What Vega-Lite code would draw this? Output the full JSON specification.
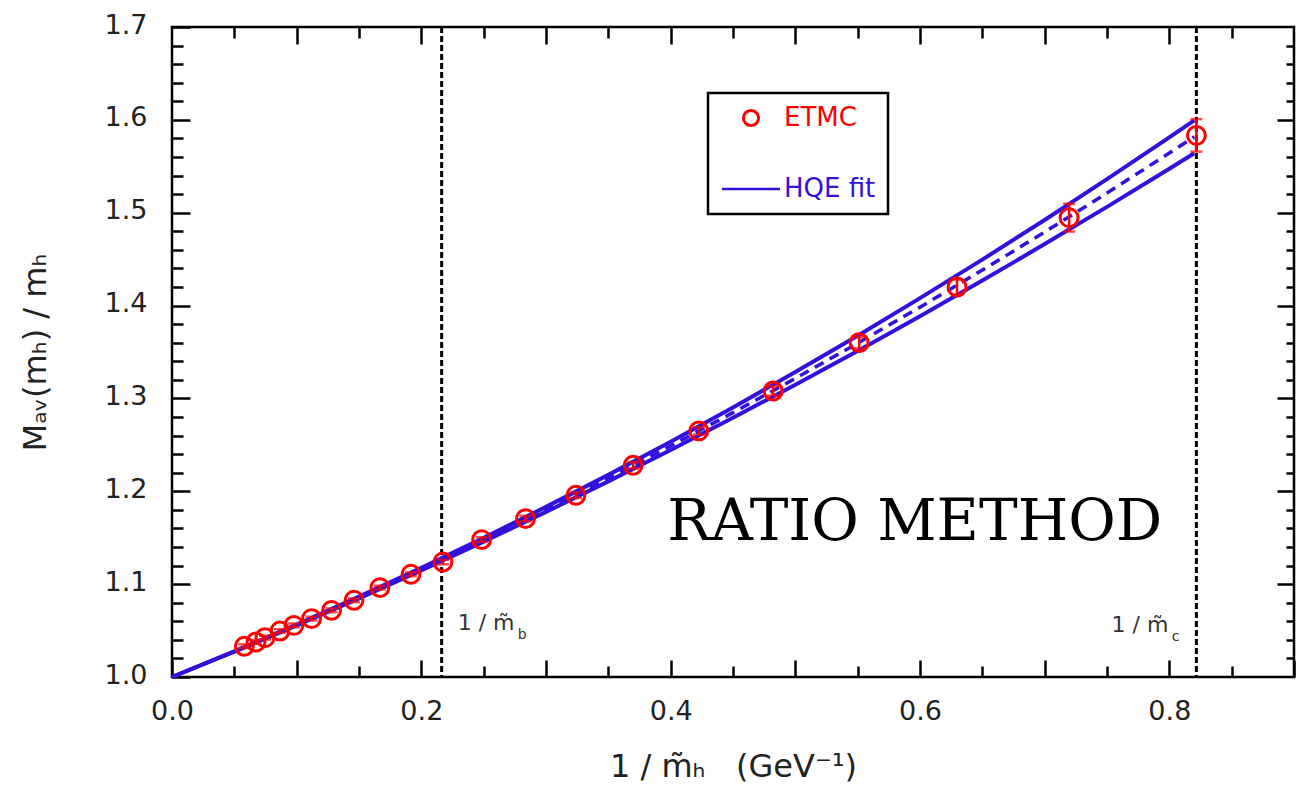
{
  "$schema": "https://vega.github.io/schema/vega-lite/v6.json",
  "width": 1122,
  "height": 650,
  "autosize": {"type": "none"},
  "padding": {"left": 172, "top": 27, "right": 2, "bottom": 114},
  "background": "white",
  "config": {
    "view": {"stroke": "black", "strokeWidth": 2.5},
    "axis": {
      "grid": false, "domain": false, "tickColor": "black", "tickWidth": 2.5,
      "labelFont": "DejaVu Sans", "labelFontSize": 27, "labelColor": "#222",
      "titleFont": "DejaVu Sans", "titleFontSize": 32, "titleColor": "#222", "titleFontWeight": "normal",
      "labelFlush": false, "labelOverlap": false
    },
    "legend": {
      "orient": "none", "legendX": 536, "legendY": 66, "direction": "vertical",
      "padding": 12, "strokeColor": "black", "symbolSize": 400, "symbolOffset": 18, "labelOffset": 20,
      "rowPadding": 44, "labelFont": "DejaVu Sans", "labelFontSize": 26
    }
  },
  "datasets": {
    "fit": [
      {"x": 0, "c": 1.0, "lo": 1.0, "hi": 1.0},
      {"x": 0.05, "c": 1.0275, "lo": 1.0273, "hi": 1.0277},
      {"x": 0.1, "c": 1.056, "lo": 1.0555, "hi": 1.0565},
      {"x": 0.15, "c": 1.0856, "lo": 1.0847, "hi": 1.0865},
      {"x": 0.2, "c": 1.1162, "lo": 1.1148, "hi": 1.1176},
      {"x": 0.25, "c": 1.1478, "lo": 1.1458, "hi": 1.1498},
      {"x": 0.3, "c": 1.1805, "lo": 1.1778, "hi": 1.1832},
      {"x": 0.35, "c": 1.2142, "lo": 1.2107, "hi": 1.2177},
      {"x": 0.4, "c": 1.2489, "lo": 1.2444, "hi": 1.2534},
      {"x": 0.45, "c": 1.2847, "lo": 1.2791, "hi": 1.2903},
      {"x": 0.5, "c": 1.3216, "lo": 1.3148, "hi": 1.3284},
      {"x": 0.55, "c": 1.3594, "lo": 1.3512, "hi": 1.3676},
      {"x": 0.6, "c": 1.3983, "lo": 1.3886, "hi": 1.408},
      {"x": 0.65, "c": 1.4382, "lo": 1.4269, "hi": 1.4495},
      {"x": 0.7, "c": 1.4792, "lo": 1.4662, "hi": 1.4922},
      {"x": 0.75, "c": 1.5212, "lo": 1.5063, "hi": 1.5361},
      {"x": 0.8, "c": 1.5643, "lo": 1.5474, "hi": 1.5812},
      {"x": 0.82, "c": 1.5818, "lo": 1.5641, "hi": 1.5995}
    ],
    "pts": [
      {"x": 0.058, "y": 1.0331, "ylo": 1.0311, "yhi": 1.0351},
      {"x": 0.0674, "y": 1.0377, "ylo": 1.0357, "yhi": 1.0397},
      {"x": 0.0746, "y": 1.0424, "ylo": 1.0404, "yhi": 1.0444},
      {"x": 0.0866, "y": 1.0495, "ylo": 1.0475, "yhi": 1.0515},
      {"x": 0.0978, "y": 1.0556, "ylo": 1.0536, "yhi": 1.0576},
      {"x": 0.112, "y": 1.0629, "ylo": 1.0609, "yhi": 1.0649},
      {"x": 0.128, "y": 1.0718, "ylo": 1.0698, "yhi": 1.0738},
      {"x": 0.146, "y": 1.0826, "ylo": 1.0806, "yhi": 1.0846},
      {"x": 0.1668, "y": 1.0963, "ylo": 1.0943, "yhi": 1.0983},
      {"x": 0.1917, "y": 1.1106, "ylo": 1.1086, "yhi": 1.1126},
      {"x": 0.2173, "y": 1.1238, "ylo": 1.1213, "yhi": 1.1263},
      {"x": 0.2484, "y": 1.148, "ylo": 1.1455, "yhi": 1.1505},
      {"x": 0.2836, "y": 1.1706, "ylo": 1.1676, "yhi": 1.1736},
      {"x": 0.324, "y": 1.1957, "ylo": 1.1927, "yhi": 1.1987},
      {"x": 0.3699, "y": 1.228, "ylo": 1.2245, "yhi": 1.2315},
      {"x": 0.4226, "y": 1.265, "ylo": 1.261, "yhi": 1.269},
      {"x": 0.4822, "y": 1.308, "ylo": 1.303, "yhi": 1.313},
      {"x": 0.5512, "y": 1.36, "ylo": 1.354, "yhi": 1.366},
      {"x": 0.6297, "y": 1.42, "ylo": 1.412, "yhi": 1.428},
      {"x": 0.7196, "y": 1.4947, "ylo": 1.4797, "yhi": 1.5097},
      {"x": 0.8217, "y": 1.5833, "ylo": 1.5658, "yhi": 1.6008}
    ],
    "vlines": [{"x": 0.2163}, {"x": 0.8217}]
  },
  "resolve": {"axis": {"x": "independent", "y": "independent"}},
  "layer": [
    {
      "data": {"name": "vlines"},
      "mark": {"type": "rule", "color": "black", "strokeWidth": 3, "strokeDash": [6, 3]},
      "encoding": {
        "x": {"field": "x", "type": "quantitative", "scale": {"domain": [0, 0.9], "nice": false, "zero": false}, "axis": null}
      }
    },
    {
      "data": {"name": "fit"},
      "mark": {"type": "line", "strokeWidth": 4},
      "encoding": {
        "x": {"field": "x", "type": "quantitative", "scale": {"domain": [0, 0.9], "nice": false, "zero": false},
          "axis": {"orient": "bottom", "values": [0, 0.1, 0.2, 0.3, 0.4, 0.5, 0.6, 0.7, 0.8, 0.9], "tickSize": -17, "labelPadding": 38,
            "labelExpr": "round(datum.value*10) % 2 == 0 ? format(datum.value, '.1f') : ''",
            "title": "1 / m̃ₕ\u00a0\u00a0\u00a0(GeV⁻¹)", "titlePadding": 27}},
        "y": {"field": "hi", "type": "quantitative", "scale": {"domain": [1, 1.7], "nice": false, "zero": false},
          "axis": {"orient": "left", "values": [1, 1.1, 1.2, 1.3, 1.4, 1.5, 1.6, 1.7], "tickSize": -18, "labelPadding": 43, "format": ".1f", "labelOffset": -2,
            "title": "Mₐᵥ(mₕ) / mₕ", "titlePadding": 52}},
        "color": {"datum": "HQE fit", "type": "nominal", "scale": {"domain": ["ETMC", "HQE fit"], "range": ["#ff0000", "#3311dd"]},
          "legend": {
            "title": null,
            "encode": {
              "legend": {"update": {"strokeWidth": {"value": 2.5}}},
              "symbols": {"update": {
                "shape": {"signal": "datum.value === 'ETMC' ? 'circle' : 'stroke'"},
                "size": {"signal": "datum.value === 'ETMC' ? 230 : 3364"},
                "stroke": {"signal": "scale('color', datum.value)"},
                "fill": {"value": "transparent"},
                "strokeWidth": {"signal": "datum.value === 'ETMC' ? 3 : 2.5"},
                "opacity": {"value": 1}
              }},
              "labels": {"update": {"fill": {"signal": "scale('color', datum.value)"}}}
            }
          }}
      }
    },
    {
      "data": {"name": "fit"},
      "mark": {"type": "line", "strokeWidth": 4, "color": "#3311dd"},
      "encoding": {
        "x": {"field": "x", "type": "quantitative",
          "axis": {"orient": "bottom", "values": [0.05, 0.15, 0.25, 0.35, 0.45, 0.55, 0.65, 0.75, 0.85], "tickSize": -11, "labels": false, "title": null}},
        "y": {"field": "lo", "type": "quantitative",
          "axis": {"orient": "left", "values": [1.02, 1.04, 1.06, 1.08, 1.12, 1.14, 1.16, 1.18, 1.22, 1.24, 1.26, 1.28, 1.32, 1.34, 1.36, 1.38, 1.42, 1.44, 1.46, 1.48, 1.52, 1.54, 1.56, 1.58, 1.62, 1.64, 1.66, 1.68], "tickSize": -11, "labels": false, "title": null}}
      }
    },
    {
      "data": {"name": "fit"},
      "mark": {"type": "line", "strokeWidth": 3.5, "color": "#3311dd", "strokeDash": [10, 7]},
      "encoding": {
        "x": {"field": "x", "type": "quantitative",
          "axis": {"orient": "top", "values": [0.1, 0.2, 0.3, 0.4, 0.5, 0.6, 0.7, 0.8], "tickSize": -17, "labels": false, "title": null}},
        "y": {"field": "c", "type": "quantitative",
          "axis": {"orient": "right", "values": [1.1, 1.2, 1.3, 1.4, 1.5, 1.6], "tickSize": -17, "labels": false, "title": null}}
      }
    },
    {
      "data": {"name": "pts"},
      "mark": {"type": "errorbar", "color": "#ff0000", "thickness": 2.5, "ticks": {"size": 12}},
      "encoding": {
        "x": {"field": "x", "type": "quantitative", "axis": null},
        "y": {"field": "ylo", "type": "quantitative", "axis": null},
        "y2": {"field": "yhi"}
      }
    },
    {
      "data": {"name": "pts"},
      "mark": {"type": "point", "shape": "circle", "filled": false, "size": 320, "strokeWidth": 3, "opacity": 1},
      "encoding": {
        "x": {"field": "x", "type": "quantitative",
          "axis": {"orient": "top", "values": [0.05, 0.15, 0.25, 0.35, 0.45, 0.55, 0.65, 0.75, 0.85], "tickSize": -11, "labels": false, "title": null}},
        "y": {"field": "y", "type": "quantitative",
          "axis": {"orient": "right", "values": [1.02, 1.04, 1.06, 1.08, 1.12, 1.14, 1.16, 1.18, 1.22, 1.24, 1.26, 1.28, 1.32, 1.34, 1.36, 1.38, 1.42, 1.44, 1.46, 1.48, 1.52, 1.54, 1.56, 1.58, 1.62, 1.64, 1.66, 1.68], "tickSize": -8, "labels": false, "title": null}},
        "color": {"datum": "ETMC", "type": "nominal",
          "legend": {
            "title": null,
            "encode": {
              "legend": {"update": {"strokeWidth": {"value": 2.5}}},
              "symbols": {"update": {
                "shape": {"signal": "datum.value === 'ETMC' ? 'circle' : 'stroke'"},
                "size": {"signal": "datum.value === 'ETMC' ? 230 : 3364"},
                "stroke": {"signal": "scale('color', datum.value)"},
                "fill": {"value": "transparent"},
                "strokeWidth": {"signal": "datum.value === 'ETMC' ? 3 : 2.5"},
                "opacity": {"value": 1}
              }},
              "labels": {"update": {"fill": {"signal": "scale('color', datum.value)"}}}
            }
          }}
      }
    },
    {
      "data": {"values": [{"x": 0.2163, "y": 1.051, "t": "1 / m̃"}]},
      "mark": {"type": "text", "align": "left", "baseline": "alphabetic", "dx": 16, "font": "DejaVu Sans", "fontSize": 22, "color": "#333"},
      "encoding": {"x": {"field": "x", "type": "quantitative", "axis": null}, "y": {"field": "y", "type": "quantitative", "axis": null}, "text": {"field": "t"}}
    },
    {
      "data": {"values": [{"x": 0.2163, "y": 1.051, "t": "b"}]},
      "mark": {"type": "text", "align": "left", "baseline": "alphabetic", "dx": 76, "dy": 9, "font": "DejaVu Sans", "fontSize": 14, "color": "#333"},
      "encoding": {"x": {"field": "x", "type": "quantitative", "axis": null}, "y": {"field": "y", "type": "quantitative", "axis": null}, "text": {"field": "t"}}
    },
    {
      "data": {"values": [{"x": 0.8217, "y": 1.049, "t": "1 / m̃"}]},
      "mark": {"type": "text", "align": "right", "baseline": "alphabetic", "dx": -28, "font": "DejaVu Sans", "fontSize": 22, "color": "#333"},
      "encoding": {"x": {"field": "x", "type": "quantitative", "axis": null}, "y": {"field": "y", "type": "quantitative", "axis": null}, "text": {"field": "t"}}
    },
    {
      "data": {"values": [{"x": 0.8217, "y": 1.049, "t": "c"}]},
      "mark": {"type": "text", "align": "right", "baseline": "alphabetic", "dx": -17, "dy": 9, "font": "DejaVu Sans", "fontSize": 14, "color": "#333"},
      "encoding": {"x": {"field": "x", "type": "quantitative", "axis": null}, "y": {"field": "y", "type": "quantitative", "axis": null}, "text": {"field": "t"}}
    },
    {
      "data": {"values": [{"x": 0.5958, "y": 1.1472, "t": "RATIO METHOD"}]},
      "mark": {"type": "text", "align": "center", "baseline": "alphabetic", "font": "DejaVu Serif", "fontSize": 58, "color": "black"},
      "encoding": {"x": {"field": "x", "type": "quantitative", "axis": null}, "y": {"field": "y", "type": "quantitative", "axis": null}, "text": {"field": "t"}}
    }
  ]
}
